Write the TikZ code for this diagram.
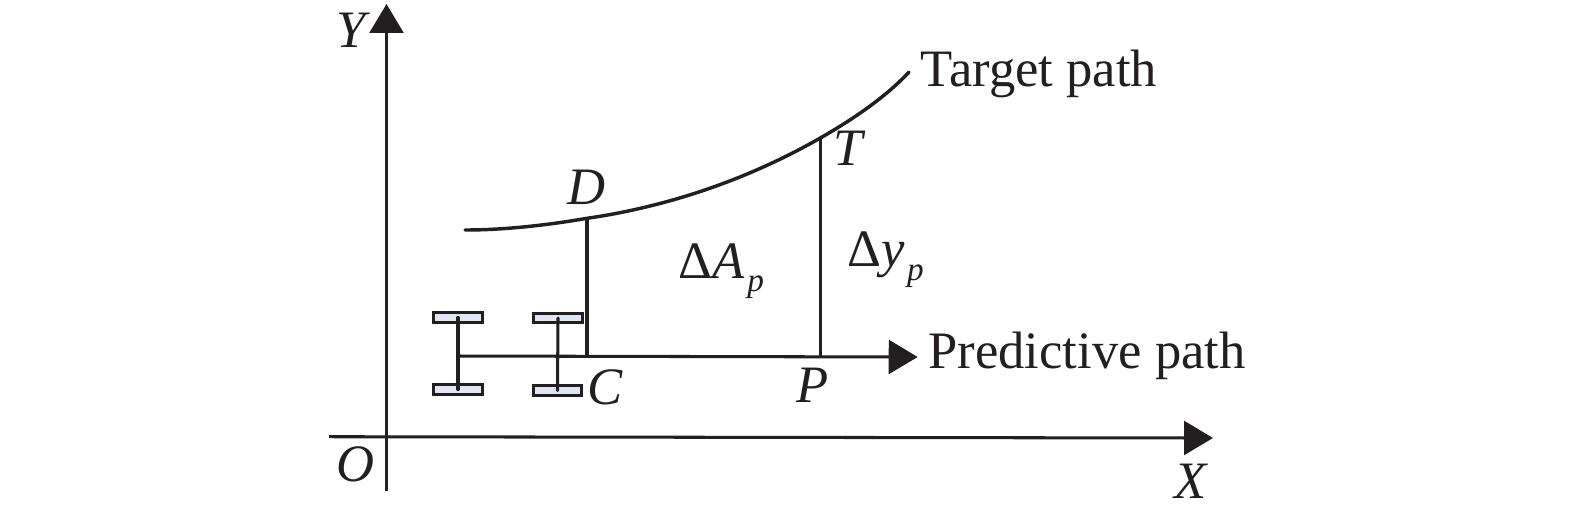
\documentclass[tikz,border=0pt]{standalone}
\usepackage{amsmath}
\usepackage{fontspec}
\setmainfont{Liberation Serif}
\usepackage{tikz}
\usetikzlibrary{calc, positioning, arrows.meta}

\definecolor{wheelfill}{RGB}{224,230,243}
\definecolor{inkblack}{RGB}{35,31,32}
\newcommand{\subp}{\kern1pt\raisebox{-5pt}{\fontsize{12}{12}\selectfont\textit{p}}}
\tikzset{
  axisline/.style={draw=inkblack, line width=1.1pt},
  curveline/.style={draw=inkblack, line width=1.25pt, line cap=round},
  bigtip/.style={-{Triangle[length=0.368cm,width=0.43cm]}},
  wheelbox/.style={draw=inkblack, fill=wheelfill, line width=1.2pt, minimum width=0.615cm, minimum height=0.12cm, inner sep=0pt},
  axleline/.style={draw=inkblack, line width=1.1pt, line cap=round},
  lbl/.style={font=\fontsize{19}{22}\selectfont, text=inkblack, inner sep=0pt},
  letterlbl/.style={font=\fontsize{19}{22}\selectfont\itshape, text=inkblack, inner sep=0pt, anchor=base},
}

\begin{document}
\begin{tikzpicture}[x=0.0127cm,y=-0.0127cm]
  \useasboundingbox (0,0) rectangle (1575,516);
  % axes
  \coordinate (xstart) at (329,436.7);
  \coordinate (xend) at (1213,438);
  \coordinate (ystart) at (386.5,491);
  \coordinate (yend) at (386.5,4);
  \draw [axisline, bigtip] (xstart) -- (xend);
  \draw [axisline, bigtip] (ystart) -- (yend);
  \node (ylbl) at (351,47) [letterlbl] {Y};
  \node (xlbl) at (1191,498) [letterlbl] {X};
  \node (olbl) at (355,481) [letterlbl] {O};
  % target path
  \coordinate (tstart) at (465,230);
  \coordinate (d) at (587,218.3);
  \coordinate (t) at (820.3,138);
  \coordinate (tend) at (909,72);
  \draw [curveline] (tstart) .. controls (505,230) and (548,225) .. (d)
    .. controls (665,207) and (745,181) .. (t)
    .. controls (850,121) and (885,98) .. (tend);
  \node (tpath) at (920,86.5) [lbl, anchor=base west] {Target path};
  % predictive path
  \coordinate (rear) at (459,356);
  \coordinate (c) at (587,357);
  \coordinate (p) at (820.3,357);
  \coordinate (pend) at (917.7,357);
  \draw [axisline, bigtip] (rear) -- (pend);
  \draw [axisline] (c) -- (d);
  \draw [axisline] (p) -- (t);
  \node (ppath) at (928,368) [lbl, anchor=base west] {Predictive path};
  % wheels
  \node (wa) at (458,317.5) [wheelbox] {};
  \node (wb) at (458,389.5) [wheelbox] {};
  \node (wc) at (558,318) [wheelbox] {};
  \node (wd) at (557.5,390.5) [wheelbox] {};
  \draw [axleline] (wa.center) -- (wb.center);
  \draw [axleline] (wc.center) -- (wd.center);
  % labels
  \node (dlbl) at (586,204) [letterlbl] {D};
  \node (tlbl) at (848,165.7) [letterlbl] {T};
  \node (clbl) at (605,404) [letterlbl] {C};
  \node (plbl) at (813,402.7) [letterlbl] {P};
  \node (area) at (678,278) [lbl, anchor=base west] {Δ\textit{A}\subp};
  \node (dy) at (846.7,266.7) [lbl, anchor=base west] {Δ\textit{y}\subp};
\end{tikzpicture}
\end{document}
